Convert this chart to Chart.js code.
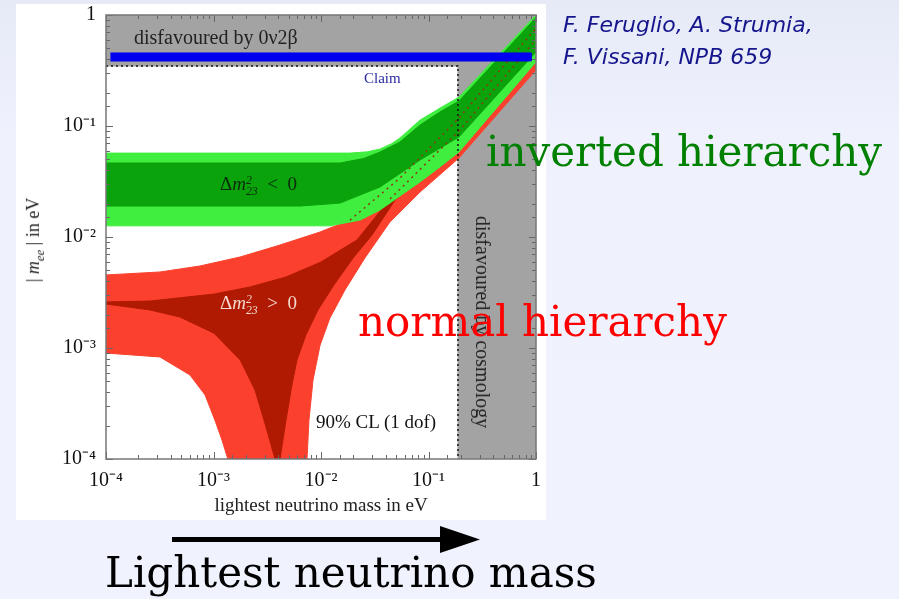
<!DOCTYPE html>
<html>
<head>
<meta charset="utf-8">
<script src="https://cdn.jsdelivr.net/npm/chart.js@4.4.1/dist/chart.umd.min.js"></script>
<style>
  html, body { margin: 0; padding: 0; }
  body {
    width: 899px; height: 599px; overflow: hidden; position: relative;
    background: linear-gradient(#e6eaf7, #eff2fd 140px, #f0f3fd);
  }
  #panel { position: absolute; left: 16px; top: 4px; width: 530px; height: 516px; background: #fff; }
  #chart { position: absolute; left: 0; top: 0; }
  .t { position: absolute; white-space: nowrap; line-height: 1; font-family: 'Liberation Serif', 'Times New Roman', serif; }
  .big { position: absolute; white-space: nowrap; line-height: 1; font-family: 'DejaVu Serif', serif; font-size: 42px; }
  .ref { position: absolute; white-space: nowrap; line-height: 1; font-family: 'DejaVu Sans', sans-serif; font-style: oblique; font-size: 22px; color: #15158c; }
  .ss { display: inline-block; vertical-align: -0.42em; font-size: 0.62em; line-height: 0.95; font-style: italic; }
  .ss span { display: block; }
</style>
</head>
<body>
<div id="panel"></div>
<canvas id="chart" width="899" height="599"></canvas>

<div class="t" style="left:134px; top:27px; font-size:20px; color:#222;">disfavoured by 0ν2β</div>
<div class="t" style="left:364px; top:71px; font-size:15px; color:#2a2aa0;">Claim</div>
<div class="t" style="left:220px; top:174px; font-size:19px; color:#0b2a0b;">Δ<i>m</i><span class="ss"><span>2</span><span>23</span></span>&nbsp;&nbsp;&lt;&nbsp;&nbsp;0</div>
<div class="t" style="left:220px; top:293px; font-size:19px; color:#f3d9cf;">Δ<i>m</i><span class="ss"><span>2</span><span>23</span></span>&nbsp;&nbsp;&gt;&nbsp;&nbsp;0</div>
<div class="t" style="left:316px; top:412px; font-size:19px; color:#111;">90% CL (1 dof)</div>
<div class="t" style="left:483px; top:322px; font-size:20px; color:#222; transform: translate(-50%,-50%) rotate(90deg);">disfavoured by cosmology</div>
<div class="t" style="left:35px; top:240px; font-size:18px; color:#222; transform: translate(-50%,-50%) rotate(-90deg);">|&nbsp;<i>m</i><sub style="font-size:0.7em"><i>ee</i></sub>&nbsp;|&nbsp;in eV</div>

<div class="ref" style="left:563px; top:14px;">F. Feruglio, A. Strumia,</div>
<div class="ref" style="left:563px; top:46px;">F. Vissani, NPB 659</div>
<div class="big" style="left:486px; top:131px; color:#008000;">inverted hierarchy</div>
<div class="big" style="left:358px; top:301px; color:#ff0000;">normal hierarchy</div>
<svg style="position:absolute; left:0; top:0;" width="899" height="599">
  <line x1="172" y1="539.5" x2="446" y2="539.5" stroke="#000" stroke-width="5"/>
  <polygon points="440,526 480,539.5 440,553" fill="#000"/>
</svg>
<div class="big" style="left:105px; top:552px; color:#000;">Lightest neutrino mass</div>

<script>
// axis ticks
const tickValues = [1e-4, 1e-3, 1e-2, 1e-1, 1];
const tickLabels = ['10⁻⁴', '10⁻³', '10⁻²', '10⁻¹', '1'];

// limits (eV)
const cosmoLimit = 0.188;
const betaLimit = 0.347;
const claimLow = 0.385;
const claimHigh = 0.455;
const claimFrom = 1.1e-4;
const claimTo = 0.9;

// inverted hierarchy: [lightest mass, |mee|]
const ihOuterUpper = [[1e-4,0.057],[0.0064,0.057],[0.0186,0.057],[0.027,0.0585],[0.0354,0.062],[0.045,0.069],[0.0543,0.078],[0.0834,0.113],[0.128,0.145],[0.192,0.182],[1,1.0]];
const ihOuterLower = [[1e-4,0.0126],[0.0121,0.0126],[0.0231,0.0142],[0.0354,0.0175],[0.0543,0.0234],[0.0834,0.0313],[0.128,0.0428],[0.192,0.0583],[1,0.378]];
const ihInnerUpper = [[1e-4,0.0464],[0.015,0.0464],[0.025,0.051],[0.0354,0.0583],[0.0543,0.0718],[0.0834,0.102],[0.128,0.134],[0.192,0.168],[1,0.95]];
const ihInnerLower = [[1e-4,0.019],[0.0064,0.019],[0.015,0.0202],[0.0354,0.0282],[0.0834,0.0494],[0.192,0.0796],[1,0.464]];

// normal hierarchy
const nhOuterUpper = [[1e-4,0.00455],[3.18e-4,0.00484],[7.48e-4,0.00548],[1.77e-3,0.00661],[4.16e-3,0.00847],[9.8e-3,0.0111],[0.0186,0.0142],[0.0543,0.034],[0.192,0.118],[1,0.76]];
const nhOuterLower = [[1e-4,9.0e-4],[3.18e-4,8.3e-4],[6.04e-4,5.71e-4],[8.34e-4,3.78e-4],[1.03e-3,2.24e-4],[1.2e-3,1.48e-4],[1.36e-3,1e-4],[7.41e-3,1e-4],[7.73e-3,2.24e-4],[8.43e-3,5.15e-4],[9.8e-3,1.06e-3],[0.0121,1.86e-3],[0.0167,3.33e-3],[0.0256,6.47e-3],[0.0439,0.0137],[0.0834,0.0254],[0.192,0.0515],[1,0.32]];
const nhInnerUpper = [[1e-4,0.0026],[2.57e-4,0.00265],[1.01e-3,0.00306],[2.19e-3,0.00355],[4.72e-3,0.00436],[0.01,0.00596],[0.0216,0.0094],[0.0439,0.022],[0.192,0.09],[1,0.6]];
const nhInnerLower = [[1e-4,2.49e-3],[2.57e-4,2.2e-3],[4.87e-4,1.9e-3],[1.01e-3,1.36e-3],[1.77e-3,7.8e-4],[2.43e-3,4.19e-4],[3.08e-3,1.94e-4],[3.73e-3,1e-4],[4.16e-3,1e-4],[4.62e-3,1.94e-4],[5.26e-3,4.19e-4],[5.98e-3,7.8e-4],[7.24e-3,1.31e-3],[9.37e-3,2.2e-3],[0.0132,3.7e-3],[0.0199,6.47e-3],[0.0298,0.0104],[0.0488,0.0215],[0.192,0.07],[1,0.42]];

const pts = arr => arr.map(([x, y]) => ({x, y}));
const band = (upper, lower) => pts(upper.concat(lower.slice().reverse()));

const disfavoured = [[1e-4,1],[1,1],[1,1e-4],[cosmoLimit,1e-4],[cosmoLimit,betaLimit],[1e-4,betaLimit]];
const claimBand = [[claimFrom,claimHigh],[claimTo,claimHigh],[claimTo,claimLow],[claimFrom,claimLow]];
const allowedEdge = [[1e-4,betaLimit],[cosmoLimit,betaLimit],[cosmoLimit,1e-4]];

function area(label, data, color, order) {
  return { label, data, backgroundColor: color, borderColor: color, borderWidth: 1, fill: 'shape', pointRadius: 0, tension: 0, order };
}
function edge(label, data, color, dash, width, order) {
  return { label, data: pts(data), borderColor: color, borderWidth: width, borderDash: dash, fill: false, pointRadius: 0, tension: 0, order };
}

const isDecade = v => Math.abs(Math.log10(v) - Math.round(Math.log10(v))) < 1e-6;

const frameTicks = {
  id: 'frameTicks',
  afterDatasetsDraw(chart) {
    const {ctx, chartArea: a, scales: {x, y}} = chart;
    ctx.save();
    ctx.strokeStyle = '#666';
    ctx.lineWidth = 1;
    ctx.beginPath();
    x.ticks.forEach(t => {
      const px = Math.round(x.getPixelForValue(t.value)) + 0.5;
      const len = isDecade(t.value) ? 7 : 4;
      ctx.moveTo(px, a.bottom); ctx.lineTo(px, a.bottom - len);
      ctx.moveTo(px, a.top); ctx.lineTo(px, a.top + len);
    });
    y.ticks.forEach(t => {
      const py = Math.round(y.getPixelForValue(t.value)) + 0.5;
      const len = isDecade(t.value) ? 7 : 4;
      ctx.moveTo(a.left, py); ctx.lineTo(a.left + len, py);
      ctx.moveTo(a.right, py); ctx.lineTo(a.right - len, py);
    });
    ctx.stroke();
    ctx.strokeStyle = '#777';
    ctx.lineWidth = 1.5;
    ctx.strokeRect(a.left, a.top, a.right - a.left, a.bottom - a.top);
    ctx.restore();
  }
};

const tickFont = { family: "'Liberation Serif', serif", size: 20 };
const tickLabel = v => {
  const i = tickValues.findIndex(t => Math.abs(Math.log10(t) - Math.log10(v)) < 1e-6);
  return i >= 0 ? tickLabels[i] : '';
};

new Chart(document.getElementById('chart'), {
  type: 'line',
  data: {
    datasets: [
      area('disfavoured', pts(disfavoured), '#a3a3a3', 9),
      area('normal hierarchy 90%', band(nhOuterUpper, nhOuterLower), '#fb412e', 8),
      area('normal hierarchy best', band(nhInnerUpper, nhInnerLower), '#b11a02', 7),
      area('inverted hierarchy 90%', band(ihOuterUpper, ihOuterLower), '#3fee3f', 6),
      area('inverted hierarchy best', band(ihInnerUpper, ihInnerLower), '#0ba30b', 5),
      edge('normal upper (hidden)', nhOuterUpper.slice(6), '#8a3a10', [2, 4], 1.5, 4),
      edge('normal best upper (hidden)', nhInnerUpper.slice(7), '#8a3a10', [2, 4], 1.5, 4),
      area('claim', pts(claimBand), '#0000f0', 3),
      edge('allowed region', allowedEdge, '#111', [2, 3], 1.5, 2)
    ]
  },
  options: {
    responsive: false,
    animation: false,
    events: [],
    layout: { padding: { left: 16, right: 363, top: 15, bottom: 80 } },
    plugins: { legend: { display: false }, tooltip: { enabled: false } },
    scales: {
      x: {
        type: 'logarithmic', min: 1e-4, max: 1,
        grid: { display: false, drawTicks: false },
        border: { display: false },
        ticks: { autoSkip: false, maxRotation: 0, padding: 10, font: tickFont, color: '#111', callback: tickLabel },
        title: { display: true, text: 'lightest neutrino mass in eV', font: { family: "'Liberation Serif', serif", size: 19 }, color: '#222', padding: { top: 2, bottom: 2 } },
        afterFit: s => { s.height = 60; s.paddingLeft = 0; s.paddingRight = 0; }
      },
      y: {
        type: 'logarithmic', min: 1e-4, max: 1,
        grid: { display: false, drawTicks: false },
        border: { display: false },
        ticks: { autoSkip: false, padding: 10, font: tickFont, color: '#111', callback: tickLabel },
        afterFit: s => { s.width = 90; s.paddingTop = 0; s.paddingBottom = 0; }
      }
    }
  },
  plugins: [frameTicks]
});
</script>
</body>
</html>
